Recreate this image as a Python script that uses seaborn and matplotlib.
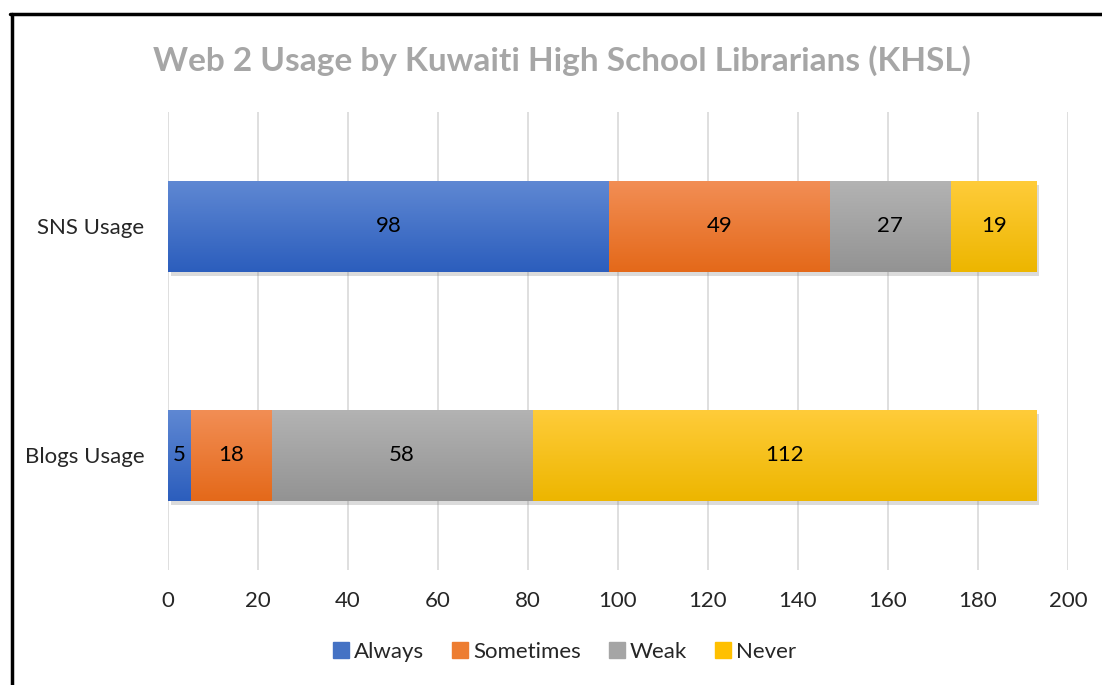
import numpy as np
import pandas as pd
import matplotlib
matplotlib.use("Agg")
import matplotlib.pyplot as plt
import matplotlib.patheffects as pe
from matplotlib.colors import LinearSegmentedColormap
from matplotlib.lines import Line2D
import seaborn as sns

# ---------------------------------------------------------------------------
# Data
# ---------------------------------------------------------------------------
categories = ["SNS Usage", "Blogs Usage"]
series = ["Always", "Sometimes", "Weak", "Never"]
always = [98, 5]
sometimes = [49, 18]
weak = [27, 58]
never = [19, 112]
x_ticks = [0, 20, 40, 60, 80, 100, 120, 140, 160, 180, 200]

# gradient (top, bottom) per series, Excel-ish
grad = {
    "Always": ("#5F88D3", "#2C5EBD"),
    "Sometimes": ("#F28E55", "#E4691A"),
    "Weak": ("#B3B3B3", "#939393"),
    "Never": ("#FFCC3A", "#EDB600"),
}
legend_col = {"Always": "#4472C4", "Sometimes": "#ED7D31", "Weak": "#A5A5A5", "Never": "#FFC000"}

df = pd.DataFrame({"category": categories, "Always": always, "Sometimes": sometimes,
                   "Weak": weak, "Never": never})
cum = df[series].cumsum(axis=1)

sns.set_style("white")
plt.rcParams["font.family"] = ["Lato", "DejaVu Sans"]

fig = plt.figure(figsize=(11.02, 6.85), dpi=100)
ax = fig.add_axes([0.1525, 0.168, 0.8165, 0.6685])

# draw longest (cumulative) first so shorter segments sit on top
for i, s in enumerate(reversed(series)):
    n0 = len(ax.patches)
    sns.barplot(x=cum[s], y=df["category"], order=categories, orient="h",
                color=legend_col[s], width=0.4, ax=ax, zorder=3 + i,
                edgecolor="none", linewidth=0)
    for p in ax.patches[n0:]:
        x0, y0 = p.get_x(), p.get_y()
        w, h = p.get_width(), p.get_height()
        if s == "Never":
            p.set_path_effects([pe.SimplePatchShadow(offset=(2, -3), shadow_rgbFace="#888888", alpha=0.3),
                                pe.Normal()])
        cmap = LinearSegmentedColormap.from_list(s, [grad[s][0], grad[s][1]])
        img = ax.imshow(np.linspace(0, 1, 64).reshape(-1, 1), cmap=cmap, aspect="auto",
                        extent=(x0, x0 + w, y0 + h, y0), origin="upper", zorder=3 + i + 0.5)
        img.set_clip_path(p)

# segment labels
for s in series:
    for j, cat in enumerate(categories):
        v = df.loc[j, s]
        left = cum.loc[j, s] - v
        ax.text(left + v / 2, j, str(v), ha="center", va="center", fontsize=16,
                color="black", zorder=20)

ax.set_ylim(1.5, -0.5)
ax.set_xticks(x_ticks)
ax.set_xticklabels([str(t) for t in x_ticks], fontsize=16)
ax.tick_params(axis="y", labelsize=16, length=0, pad=17)
ax.tick_params(axis="x", length=0, pad=15)
ax.set_xlabel("")
ax.set_ylabel("")
ax.grid(axis="x", color="#D9D9D9", linewidth=1.2, zorder=0)
ax.set_axisbelow(True)
sns.despine(ax=ax, left=True, bottom=True)
ax.set_xlim(0, 200)

fig.text(0.51, 0.912, "Web 2 Usage by Kuwaiti High School Librarians (KHSL)",
         ha="center", va="center", fontsize=24, fontweight="bold", color="#A6A6A6")

handles = [Line2D([0], [0], marker="s", linestyle="none", markersize=11,
                  markerfacecolor=legend_col[s], markeredgecolor=legend_col[s]) for s in series]
fig.legend(handles, series, loc="center", bbox_to_anchor=(0.513, 0.048), ncol=4,
           frameon=False, fontsize=16, handlelength=0.6, handletextpad=0.3,
           columnspacing=1.3)

# border lines (top and left only visible)
fig.add_artist(Line2D([0.0095, 1.0], [0.98, 0.98], color="black", linewidth=2.5, transform=fig.transFigure))
fig.add_artist(Line2D([0.0105, 0.0105], [0.0, 0.98], color="black", linewidth=2.5, transform=fig.transFigure))

fig.savefig("out.png", dpi=100)
